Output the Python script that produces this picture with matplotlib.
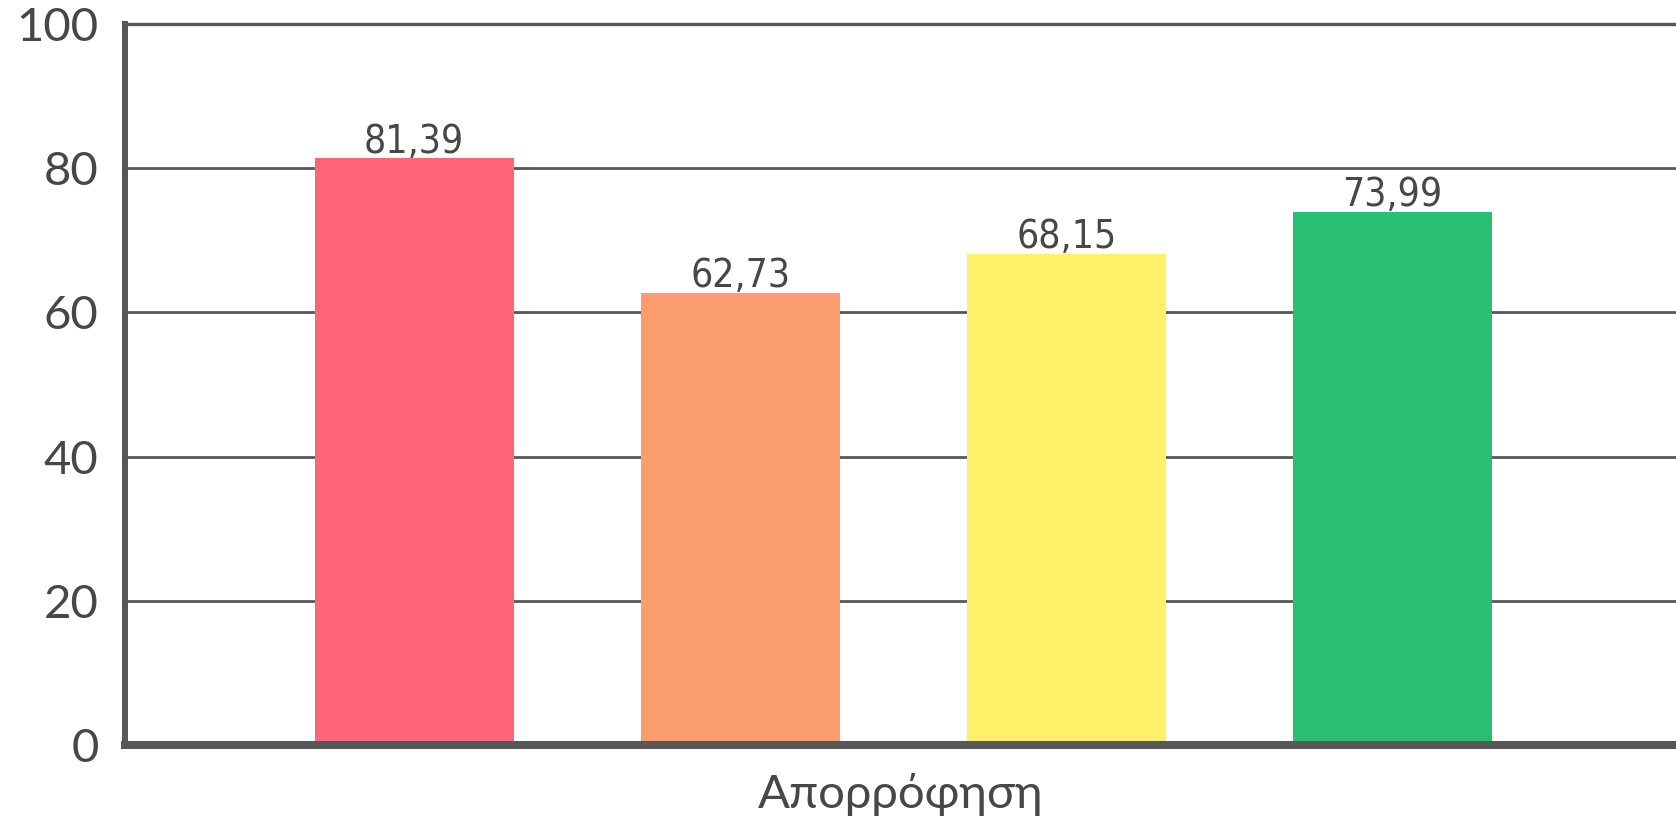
import matplotlib
matplotlib.use('Agg')
import matplotlib.pyplot as plt

categories = ['A', 'B', 'C', 'D']
values = [81.39, 62.73, 68.15, 73.99]
value_labels = ['81,39', '62,73', '68,15', '73,99']
colors = ['#FF6577', '#FB9D6E', '#FFF06A', '#29BF72']
y_ticks = [0, 20, 40, 60, 80, 100]
x_label = 'Απορρόφηση'

txt_color = '#474747'
line_color = '#575757'

fig = plt.figure(figsize=(16.76, 8.18), dpi=100)
ax = fig.add_axes([0.0746, 0.0892, 0.9254, 0.8815])

x = list(range(len(categories)))
bars = ax.bar(x, values, width=0.61, color=colors, zorder=2)

for xi, v, lab in zip(x, values, value_labels):
    ax.annotate(lab, (xi, v), xytext=(0, 4), textcoords='offset points',
                ha='center', va='baseline', fontsize=28,
                family=['DejaVu Sans', 'Liberation Sans'], stretch='condensed',
                color=txt_color)

ax.set_ylim(0, 100)
ax.set_xlim(-0.887, 3.87)
ax.set_yticks(y_ticks)
ax.set_yticklabels([str(t) for t in y_ticks], fontsize=34,
                   family=['Lato', 'DejaVu Sans'], color=txt_color)
ax.tick_params(axis='y', length=0, pad=19)
ax.set_xticks([])

ax.yaxis.grid(True, color=line_color, linewidth=2.0)
ax.set_axisbelow(True)

ax.spines['right'].set_visible(False)
ax.spines['top'].set_linewidth(2.4)
ax.spines['top'].set_color(line_color)
ax.spines['left'].set_linewidth(4.3)
ax.spines['left'].set_color(line_color)
ax.spines['bottom'].set_linewidth(5.8)
ax.spines['bottom'].set_color(line_color)
ax.spines['bottom'].set_zorder(3)

ax.set_xlabel(x_label, fontsize=34,
              family=['Lato', 'Noto Sans', 'DejaVu Sans'],
              color=txt_color, labelpad=20)

fig.savefig('out.png', dpi=100, facecolor='white')
